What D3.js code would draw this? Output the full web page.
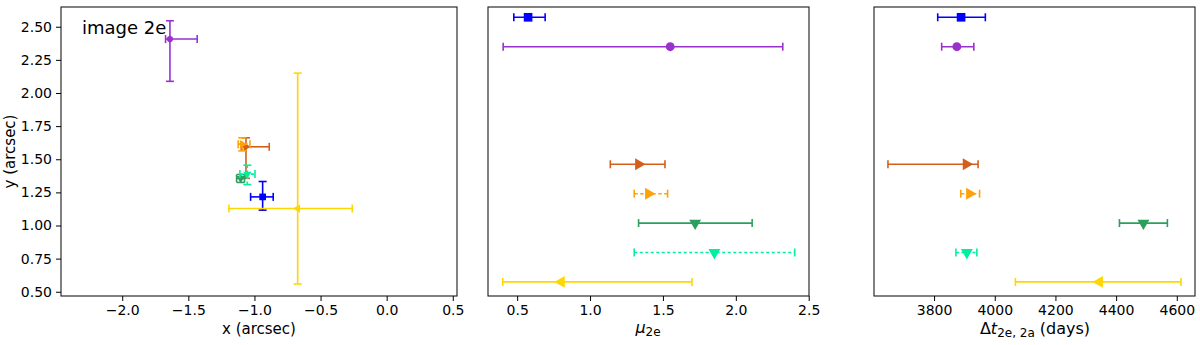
<!DOCTYPE html>
<html>
<head>
<meta charset="utf-8">
<script src="https://cdn.jsdelivr.net/npm/d3@7"></script>
<style>
  html, body { margin: 0; padding: 0; background: #fff; }
  svg { display: block; font-family: "DejaVu Sans", sans-serif; }
</style>
</head>
<body>
<svg id="chart" width="1200" height="345"></svg>
<script>
// ---------- data ----------
const seriesNames = ["blue", "purple", "orangered", "orange", "green", "cyan", "yellow"];
const colors = ["#0000ff", "#9932cc", "#d2601a", "#ffa20a", "#2e9e5e", "#00f0a0", "#ffd700"];
const markers = ["square", "circle", "right", "right", "down", "down", "left"];
const dashes = [null, null, null, "3.5,2.5", null, "3,2.5", null];
const rows = [0, 1, 5, 6, 7, 8, 9];

// panel 1: positions (arcsec)
const posX   = [-0.938, -1.639, -1.064, -1.092, -1.104, -1.054, -0.673];
const posXlo = [-1.029, -1.672, -1.100, -1.123, -1.135, -1.110, -1.193];
const posXhi = [-0.858, -1.433, -0.888, -1.034, -1.075, -0.996, -0.260];
const posY   = [1.216, 2.407, 1.594, 1.614, 1.355, 1.388, 1.128];
const posYlo = [1.116, 2.088, 1.356, 1.563, 1.325, 1.309, 0.559];
const posYhi = [1.332, 2.545, 1.662, 1.662, 1.385, 1.455, 2.150];

// panel 2: magnification mu_2e
const mu   = [0.575, 1.550, 1.333, 1.401, 1.721, 1.853, 0.803];
const muLo = [0.477, 0.404, 1.139, 1.303, 1.333, 1.303, 0.401];
const muHi = [0.692, 2.322, 1.514, 1.532, 2.112, 2.404, 1.699];

// panel 3: time delay (days)
const dt   = [3889, 3875, 3906, 3917, 4490, 3908, 4345];
const dtLo = [3812, 3825, 3648, 3888, 4411, 3872, 4068];
const dtHi = [3969, 3931, 3945, 3950, 4569, 3941, 4614];

// tick labels
const xTicks1 = [-2.0, -1.5, -1.0, -0.5, 0.0, 0.5];
const yTicks1 = [0.50, 0.75, 1.00, 1.25, 1.50, 1.75, 2.00, 2.25, 2.50];
const xTicks2 = [0.5, 1.0, 1.5, 2.0, 2.5];
const xTicks3 = [3800, 4000, 4200, 4400, 4600];

// ---------- layout ----------
const svg = d3.select("#chart");
const pTop = 7, pBottom = 296;
const P1 = {l: 61, r: 457}, P2 = {l: 488, r: 809}, P3 = {l: 874, r: 1195};

const x1 = d3.scaleLinear().domain([-2.463, 0.532]).range([P1.l, P1.r]);
const y1 = d3.scaleLinear().domain([0.468, 2.649]).range([pBottom, pTop]);
const x2 = d3.scaleLinear().domain([0.30, 2.502]).range([P2.l, P2.r]);
const x3 = d3.scaleLinear().domain([3602, 4660]).range([P3.l, P3.r]);
const yRow = d3.scaleLinear().domain([-0.35, 9.48]).range([pTop, pBottom]);

const minus = s => s.replace("-", "\u2212");

function symbolPath(kind, size) {
  if (kind === "square") return {d: d3.symbol(d3.symbolSquare, size)(), rot: 0};
  if (kind === "circle") return {d: d3.symbol(d3.symbolCircle, size)(), rot: 0};
  const rot = kind === "right" ? 90 : kind === "down" ? 180 : -90;
  return {d: d3.symbol(d3.symbolTriangle, size)(), rot};
}

function axisStyle(g) {
  g.selectAll("path.domain").remove();
  g.selectAll(".tick line").attr("stroke", "#000").attr("stroke-width", 1);
  g.selectAll(".tick text").attr("fill", "#000").style("font-size", "14px")
    .style("font-family", "'DejaVu Sans', sans-serif");
}

function frame(P) {
  svg.append("rect").attr("x", P.l).attr("y", pTop)
    .attr("width", P.r - P.l).attr("height", pBottom - pTop)
    .attr("fill", "none").attr("stroke", "#1a1a1a").attr("stroke-width", 1.1);
}

function drawErr(g, xa, ya, xb, yb, col, dash, vertical) {
  g.append("line").attr("x1", xa).attr("y1", ya).attr("x2", xb).attr("y2", yb)
    .attr("stroke", col).attr("stroke-width", 1.6)
    .attr("stroke-dasharray", dash);
  const cap = 4;
  [[xa, ya], [xb, yb]].forEach(([px, py]) => {
    if (vertical) {
      g.append("line").attr("x1", px - cap).attr("x2", px + cap).attr("y1", py).attr("y2", py)
        .attr("stroke", col).attr("stroke-width", 1.6);
    } else {
      g.append("line").attr("x1", px).attr("x2", px).attr("y1", py - cap).attr("y2", py + cap)
        .attr("stroke", col).attr("stroke-width", 1.6);
    }
  });
}

function marker(g, kind, cx, cy, col, size) {
  const s = symbolPath(kind, size);
  g.append("path").attr("d", s.d)
    .attr("transform", `translate(${cx},${cy}) rotate(${s.rot})`)
    .attr("fill", col);
}

// ---------- panel 1 ----------
const g1 = svg.append("g");
seriesNames.forEach((n, i) => {
  const sg = g1.append("g");
  drawErr(sg, x1(posXlo[i]), y1(posY[i]), x1(posXhi[i]), y1(posY[i]), colors[i], dashes[i], false);
  drawErr(sg, x1(posX[i]), y1(posYlo[i]), x1(posX[i]), y1(posYhi[i]), colors[i], dashes[i], true);
  marker(sg, markers[i], x1(posX[i]), y1(posY[i]), colors[i], markers[i] === "square" ? 45 : 30);
});
frame(P1);
svg.append("g").attr("transform", `translate(0,${pBottom})`)
  .call(d3.axisBottom(x1).tickValues(xTicks1).tickSize(5).tickPadding(4)
    .tickFormat(d => minus(d3.format(".1f")(d))))
  .call(axisStyle);
svg.append("g").attr("transform", `translate(${P1.l},0)`)
  .call(d3.axisLeft(y1).tickValues(yTicks1).tickSize(5).tickPadding(4)
    .tickFormat(d3.format(".2f")))
  .call(axisStyle);
svg.append("text").attr("x", 82).attr("y", 34).attr("font-size", 18).attr("fill", "#000")
  .text("image 2e");
svg.append("text").attr("x", (P1.l + P1.r) / 2).attr("y", 334).attr("text-anchor", "middle")
  .attr("font-size", 15).attr("fill", "#000").text("x (arcsec)");
svg.append("text").attr("transform", `translate(15,${(pTop + pBottom) / 2}) rotate(-90)`)
  .attr("text-anchor", "middle").attr("font-size", 15).attr("fill", "#000").text("y (arcsec)");

// ---------- panel 2 ----------
const g2 = svg.append("g");
seriesNames.forEach((n, i) => {
  const sg = g2.append("g");
  const yy = yRow(rows[i]);
  drawErr(sg, x2(muLo[i]), yy, x2(muHi[i]), yy, colors[i], dashes[i], false);
  marker(sg, markers[i], x2(mu[i]), yy, colors[i], markers[i] === "square" ? 75 : 62);
});
frame(P2);
svg.append("g").attr("transform", `translate(0,${pBottom})`)
  .call(d3.axisBottom(x2).tickValues(xTicks2).tickSize(5).tickPadding(4)
    .tickFormat(d3.format(".1f")))
  .call(axisStyle);
const lab2 = svg.append("text").attr("x", 648).attr("y", 333).attr("text-anchor", "middle")
  .attr("font-size", 16).attr("fill", "#000");
lab2.append("tspan").attr("font-style", "italic").text("\u03bc");
lab2.append("tspan").attr("font-size", 12).attr("dy", 3).text("2e");

// ---------- panel 3 ----------
const g3 = svg.append("g");
seriesNames.forEach((n, i) => {
  const sg = g3.append("g");
  const yy = yRow(rows[i]);
  drawErr(sg, x3(dtLo[i]), yy, x3(dtHi[i]), yy, colors[i], dashes[i], false);
  marker(sg, markers[i], x3(dt[i]), yy, colors[i], markers[i] === "square" ? 75 : 62);
});
frame(P3);
svg.append("g").attr("transform", `translate(0,${pBottom})`)
  .call(d3.axisBottom(x3).tickValues(xTicks3).tickSize(5).tickPadding(4)
    .tickFormat(d3.format("d")))
  .call(axisStyle);
const lab3 = svg.append("text").attr("x", 1035).attr("y", 334).attr("text-anchor", "middle")
  .attr("font-size", 16).attr("fill", "#000");
lab3.append("tspan").text("\u0394");
lab3.append("tspan").attr("font-style", "italic").text("t");
lab3.append("tspan").attr("font-size", 12).attr("dy", 3).text("2e, 2a");
lab3.append("tspan").attr("dy", -3).text(" (days)");
</script>
</body>
</html>
